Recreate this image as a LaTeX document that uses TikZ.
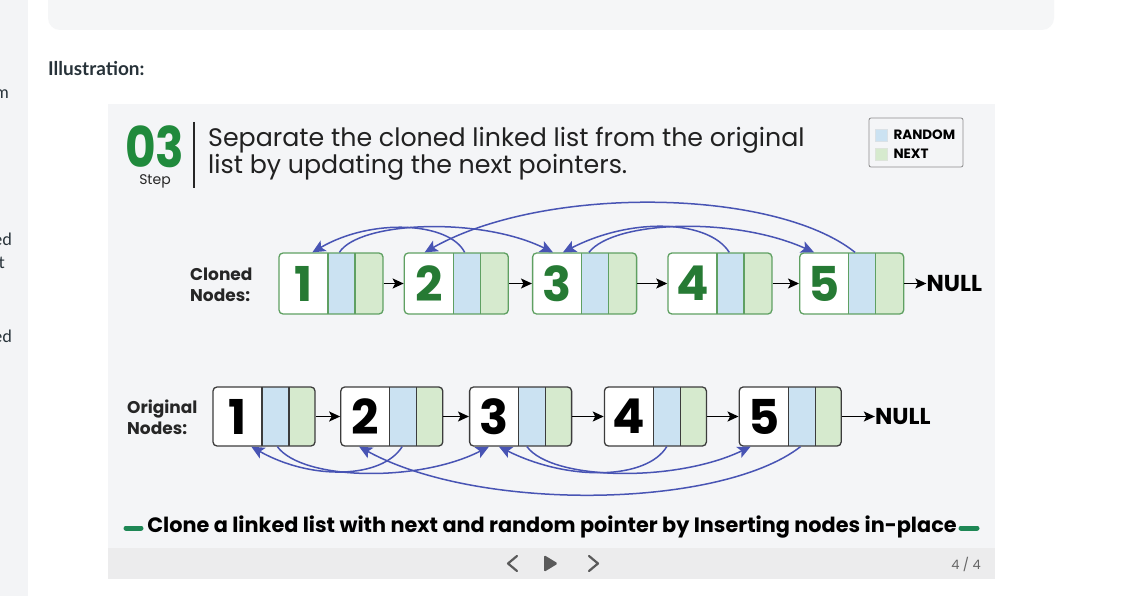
\documentclass[tikz,border=0pt]{standalone}
\usepackage{fontspec}
\usepackage{graphicx}
\usepackage{xcolor}
\usepackage{tikz}
\usetikzlibrary{positioning,arrows.meta}
\setmainfont{Poppins}
\newfontfamily\pagefont{Lato}

\definecolor{sideBg}{RGB}{243,244,246}
\definecolor{boxBg}{RGB}{245,246,247}
\definecolor{slideBg}{RGB}{244,245,247}
\definecolor{navBg}{RGB}{236,236,237}
\definecolor{pageInk}{RGB}{39,50,57}
\definecolor{stepGreen}{RGB}{32,138,60}
\definecolor{cloneEdge}{RGB}{95,160,98}
\definecolor{cloneNum}{RGB}{38,122,52}
\definecolor{origEdge}{RGB}{60,60,60}
\definecolor{randomFill}{RGB}{203,226,242}
\definecolor{nextFill}{RGB}{214,234,206}
\definecolor{randomBlue}{RGB}{72,84,180}
\definecolor{legendEdge}{RGB}{140,140,140}
\definecolor{dashGreen}{RGB}{30,135,85}
\definecolor{navInk}{RGB}{90,90,90}

\begin{document}
\begin{tikzpicture}[
        x=1pt, y=-1pt,
        every node/.style={inner sep=0pt},
        cellrule/.store in=\cellRule,
        listNode/.style={rectangle, rounded corners=4pt, fill=white, line width=1.3pt,
        minimum height=61pt, font=\fontsize{48}{48}\selectfont\bfseries,
        path picture={
            \fill[sharp corners, randomFill] ([xshift=49pt]path picture bounding box.north west) rectangle ([xshift=76pt]path picture bounding box.south west);
            \fill[sharp corners, nextFill] ([xshift=76pt]path picture bounding box.north west) rectangle (path picture bounding box.south east);
            \draw[sharp corners, line width=1.3pt, draw=\cellRule] ([xshift=49pt]path picture bounding box.north west) -- ([xshift=49pt]path picture bounding box.south west);
            \draw[sharp corners, line width=1.3pt, draw=\cellRule] ([xshift=76pt]path picture bounding box.north west) -- ([xshift=76pt]path picture bounding box.south west);
        }},
        clonedNode/.style={listNode, draw=cloneEdge, text=cloneNum, cellrule=cloneEdge, minimum width=104pt},
        origNode/.style={listNode, draw=origEdge, text=black, cellrule=origEdge, minimum width=102pt, minimum height=59pt},
        nullText/.style={font=\fontsize{23}{23}\selectfont\bfseries, text=black},
        sideLabel/.style={font=\fontsize{17}{21}\selectfont\bfseries, align=left, text=black!85},
        nextArrow/.style={-{Stealth[length=11pt,width=10pt,inset=2.5pt]}, line width=1.6pt, draw=black},
        randomArrow/.style={-{Stealth[length=13pt,width=12pt,inset=3pt]}, line width=1.5pt, draw=randomBlue},
        keyBox/.style={draw=#1!80!black!40, fill=#1, minimum size=12pt, line width=0.6pt},
        legendText/.style={font=\fontsize{13.5}{13.5}\selectfont\bfseries, text=black, anchor=west},
        pageText/.style={font=\pagefont\fontsize{17}{17}\selectfont, text=pageInk, anchor=base east},
    ]
    % page around the slide
    \useasboundingbox (0,0) rectangle (1125,596);
    \fill[white] (0,0) rectangle (1125,596);
    \fill[sideBg] (0,0) rectangle (28,596);
    \fill[boxBg, rounded corners=12pt] (48,-20) rectangle (1054,30);
    \node[pageText] (sideA) at (9,99) {m};
    \node[pageText] (sideB) at (12,246) {ed};
    \node[pageText] (sideC) at (5,269) {t};
    \node[pageText] (sideD) at (12,342) {ed};
    \node[font=\pagefont\fontsize{19}{19}\selectfont\bfseries, text=pageInk, anchor=base west] (illus) at (48,76) {Illustration:};

    % slide
    \fill[slideBg] (108,104) rectangle (995,548);
    \fill[navBg] (108,548) rectangle (995,579);

    % heading
    \node[font=\fontsize{56}{56}\selectfont\bfseries, text=stepGreen, text depth=0pt, anchor=base west] (stepNum) at (125,168) {\scalebox{0.84}[1]{03}};
    \node[font=\fontsize{14}{14}\selectfont, text=black!85, anchor=base] (stepWord) at (155,185) {Step};
    \draw[line width=1.4pt, black!85] (194,122) -- (194,188);
    \node[font=\fontsize{25.3}{25.3}\selectfont, text=black!87, anchor=base west] (title1) at (208,147) {Separate the cloned linked list from the original};
    \node[font=\fontsize{25.3}{25.3}\selectfont, text=black!87, anchor=base west] (title2) at ([yshift=-27pt]title1.base west) {list by updating the next pointers.};

    % legend
    \node[draw=legendEdge, rounded corners=2pt, line width=0.8pt, minimum width=94pt, minimum height=49pt] (legend) at (916,142.5) {};
    \node[keyBox=randomFill] (keyRandom) at (881,135) {};
    \node[keyBox=nextFill] (keyNext) at (881,154) {};
    \node[legendText] (txtRandom) [right=6pt of keyRandom] {RANDOM};
    \node[legendText] (txtNext) [right=6pt of keyNext] {NEXT};

    % cloned list
    \node[sideLabel, anchor=west] (clonedLbl) at (190,285) {Cloned\\Nodes:};
    \node[clonedNode] (c1) at (331,283.5) {\makebox[104pt][l]{\makebox[49pt]{1}}};
    \node[clonedNode] (c2) [right=20pt of c1] {\makebox[104pt][l]{\makebox[49pt]{2}}};
    \node[clonedNode] (c3) [right=23pt of c2] {\makebox[104pt][l]{\makebox[49pt]{3}}};
    \node[clonedNode] (c4) [right=30pt of c3] {\makebox[104pt][l]{\makebox[49pt]{4}}};
    \node[clonedNode] (c5) [right=26.5pt of c4] {\makebox[104pt][l]{\makebox[49pt]{5}}};
    \node[nullText] (cNull) [right=22pt of c5] {NULL};
    \draw[nextArrow] (c1) -- (c2);
    \draw[nextArrow] (c2) -- (c3);
    \draw[nextArrow] (c3) -- (c4);
    \draw[nextArrow] (c4) -- (c5);
    \draw[nextArrow] (c5) -- (cNull);
    \draw[randomArrow] ([xshift=61pt]c1.north west) .. controls +(20,-31) and +(-73,-36) .. ([xshift=21pt]c3.north west);
    \draw[randomArrow] ([xshift=61pt]c2.north west) .. controls +(-15,-30) and +(60,-35) .. ([xshift=34pt]c1.north west);
    \draw[randomArrow] ([xshift=57pt]c3.north west) .. controls +(25,-32) and +(-80,-36) .. ([xshift=15pt]c5.north west);
    \draw[randomArrow] ([xshift=62pt]c4.north west) .. controls +(-20,-32) and +(70,-36) .. ([xshift=31pt]c3.north west);
    \draw[randomArrow] ([xshift=56pt]c5.north west) .. controls +(-80,-64) and +(120,-68) .. ([xshift=21pt]c2.north west);

    % original list
    \node[sideLabel, anchor=west] (origLbl) at (127,417) {Original\\Nodes:};
    \node[origNode] (o1) at (264,416.5) {\makebox[102pt][l]{\makebox[49pt]{1}}};
    \node[origNode] (o2) [right=24.5pt of o1] {\makebox[102pt][l]{\makebox[49pt]{2}}};
    \node[origNode] (o3) [right=25.5pt of o2] {\makebox[102pt][l]{\makebox[49pt]{3}}};
    \node[origNode] (o4) [right=31.5pt of o3] {\makebox[102pt][l]{\makebox[49pt]{4}}};
    \node[origNode] (o5) [right=31.5pt of o4] {\makebox[102pt][l]{\makebox[49pt]{5}}};
    \node[nullText] (oNull) [right=33pt of o5] {NULL};
    \draw[nextArrow] (o1) -- (o2);
    \draw[nextArrow] (o2) -- (o3);
    \draw[nextArrow] (o3) -- (o4);
    \draw[nextArrow] (o4) -- (o5);
    \draw[nextArrow] (o5) -- (oNull);
    \draw[randomArrow] ([xshift=65pt]o1.south west) .. controls +(25,34) and +(-70,36) .. ([xshift=20pt]o3.south west);
    \draw[randomArrow] ([xshift=62pt]o2.south west) .. controls +(-20,32) and +(60,34) .. ([xshift=39pt]o1.south west);
    \draw[randomArrow] ([xshift=58pt]o3.south west) .. controls +(25,34) and +(-75,36) .. ([xshift=12pt]o5.south west);
    \draw[randomArrow] ([xshift=63pt]o4.south west) .. controls +(-20,33) and +(70,35) .. ([xshift=30pt]o3.south west);
    \draw[randomArrow] ([xshift=62pt]o5.south west) .. controls +(-80,62) and +(120,66) .. ([xshift=19pt]o2.south west);

    % caption
    \node[font=\fontsize{20.8}{20.8}\selectfont\bfseries, text=black] (caption) at (552,527) {Clone a linked list with next and random pointer by Inserting nodes in-place};
    \draw[dashGreen, line width=5pt, line cap=round] (126,528) -- (141,528);
    \draw[dashGreen, line width=5pt, line cap=round] (961,528) -- (977,528);

    % slide controls
    \draw[navInk, line width=2.2pt, line cap=round, line join=round] (517,556) -- (508,563.5) -- (517,571);
    \fill[navInk, rounded corners=1.5pt] (544,555) -- (558,563.5) -- (544,572) -- cycle;
    \draw[navInk, line width=2.2pt, line cap=round, line join=round] (589,556) -- (598,563.5) -- (589,571);
    \node[font=\fontsize{13}{13}\selectfont, text=black!60] (pageNo) at (966,564) {4 / 4};
\end{tikzpicture}
\end{document}
